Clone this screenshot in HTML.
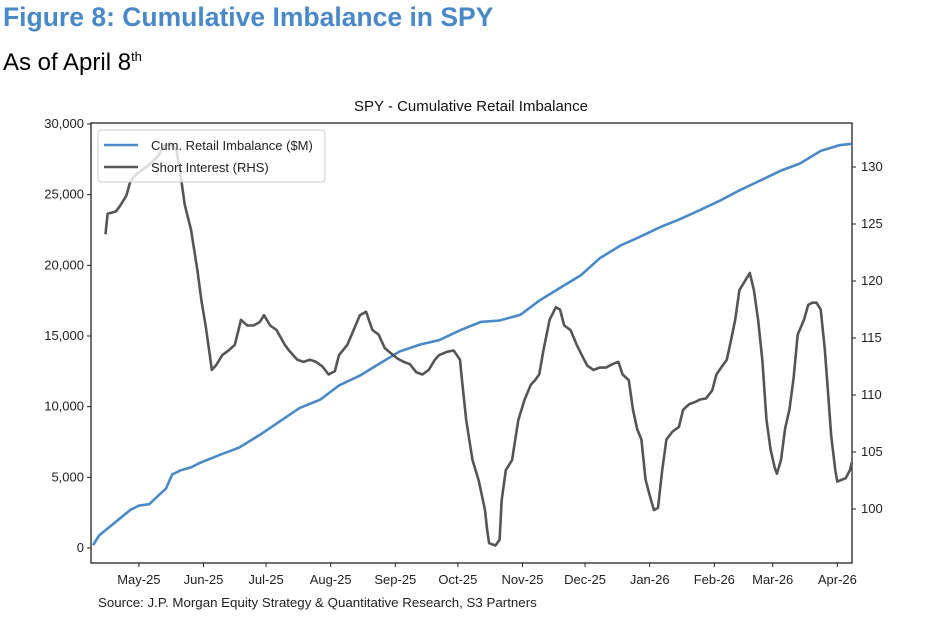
<!DOCTYPE html>
<html><head><meta charset="utf-8"><style>
body{margin:0;background:#fff;width:932px;height:624px;overflow:hidden;font-family:"Liberation Sans",Arial,sans-serif}
#h1{position:absolute;left:3px;top:2px;font-size:26.5px;font-weight:bold;color:#4a89c8}
#h2{position:absolute;left:3px;top:49px;font-size:24px;color:#000}
#h2 sup{font-size:13px}
svg{position:absolute;left:0;top:0}
</style></head><body>
<div id="h1">Figure 8: Cumulative Imbalance in SPY</div>
<div id="h2">As of April 8<sup>th</sup></div>
<svg id="c" width="932" height="624"></svg>
<script>
// days since 2025-04-09
const siDays=[6,7,11,13,16,18,21,24,27,31,34,37,40,42,44,47,50,52,54,56,57,59,62,65,68,71,74,77,80,82,85,88,92,94,98,101,104,107,110,113,116,118,122,125,128,131,134,137,140,142,146,149,152,155,158,161,164,166,170,173,176,177,179,182,185,188,189,190,193,195,196,198,201,204,207,210,212,214,216,219,222,224,226,229,232,235,237,240,243,246,249,252,254,257,259,261,263,265,267,269,271,273,275,278,281,283,286,289,291,294,297,299,302,304,306,308,310,313,315,317,319,321,323,325,327,328,330,332,334,336,338,341,343,345,347,349,351,353,354,356,357,361,363,364];
const siVals=[124.1,125.9,126.1,126.6,127.5,128.8,129.4,129.8,130.2,130.9,131.8,132.1,131.5,129.3,126.7,124.5,121,118.3,116.1,113.5,112.2,112.6,113.5,113.9,114.4,116.6,116.1,116.1,116.4,117,116.1,115.7,114.4,113.9,113.1,112.9,113.1,112.9,112.5,111.8,112.1,113.5,114.4,115.7,117,117.3,115.7,115.3,114.1,113.8,113.2,112.9,112.7,112,111.8,112.2,113.1,113.5,113.8,113.9,113.1,111.3,107.8,104.3,102.5,99.9,98.2,97,96.8,97.3,100.8,103.4,104.3,107.8,109.6,110.9,111.3,111.8,113.9,116.6,117.7,117.5,116.1,115.7,114.4,113.3,112.6,112.2,112.4,112.4,112.7,112.9,111.8,111.3,108.7,107,106.1,102.6,101.2,99.9,100.1,103.4,106.1,106.8,107.2,108.7,109.2,109.4,109.6,109.7,110.4,111.8,112.6,113.1,114.8,116.6,119.2,120.1,120.7,119.2,116.6,113.1,107.8,105.2,103.6,103.1,104.3,107.1,108.7,111.5,115.3,116.6,117.9,118.1,118.1,117.5,114,109.1,106.5,103.4,102.4,102.7,103.4,104.1];
const crDays=[0,3,8,13,18,22,27,32,35,38,42,47,51,61,70,80,90,99,109,118,128,138,147,157,166,176,186,195,205,214,224,234,243,253,262,272,282,291,301,310,320,330,339,349,358,364];
const crVals=[200,900,1500,2100,2700,3000,3100,3800,4200,5200,5500,5700,6000,6600,7100,8000,9000,9900,10500,11500,12200,13100,13900,14400,14700,15400,16000,16100,16500,17500,18400,19300,20500,21400,22000,22700,23300,23900,24600,25300,26000,26700,27200,28100,28500,28600];
const xTickLabels=["May-25","Jun-25","Jul-25","Aug-25","Sep-25","Oct-25","Nov-25","Dec-25","Jan-26","Feb-26","Mar-26","Apr-26"];
const xTickDays=[22,53,83,114,145,175,206,236,267,298,326,357];
const leftTicks=[0,5000,10000,15000,20000,25000,30000];
const rightTicks=[100,105,110,115,120,125,130];

const L=91,R=852,T=123,B=563;
const x=d=>93+d*2.085;
const yl=v=>548-v*(424/30000);
const yr=v=>509-(v-100)*11.4;
const svg=document.getElementById('c');
const NS='http://www.w3.org/2000/svg';
function mk(t,a,txt){const e=document.createElementNS(NS,t);for(const k in a)e.setAttribute(k,a[k]);if(txt!=null)e.textContent=txt;svg.appendChild(e);return e;}
let e=mk('text',{x:471,y:111,'text-anchor':'middle','font-size':15,fill:'#111'},'SPY - Cumulative Retail Imbalance');

e=mk('rect',{x:L,y:T,width:R-L,height:B-T,fill:'none',stroke:'#222','stroke-width':1.3});

leftTicks.forEach(v=>{const y=yl(v);mk('line',{x1:L-4,x2:L,y1:y,y2:y,stroke:'#222'});
 e=mk('text',{x:L-7,y:y+4,'text-anchor':'end','font-size':13,fill:'#222'},v.toLocaleString('en-US'));
 });
rightTicks.forEach(v=>{const y=yr(v);mk('line',{x1:R,x2:R+4,y1:y,y2:y,stroke:'#222'});
 e=mk('text',{x:R+9,y:y+4,'font-size':13,fill:'#222'},String(v));
 });
xTickDays.forEach((d,i)=>{const xx=x(d);mk('line',{x1:xx,x2:xx,y1:B,y2:B+4,stroke:'#222'});
 e=mk('text',{x:xx,y:B+21,'text-anchor':'middle','font-size':13,fill:'#222'},xTickLabels[i]);
 });
e=mk('path',{d:crDays.map((d,i)=>(i?'L':'M')+x(d).toFixed(1)+','+yl(crVals[i]).toFixed(1)).join(''),fill:'none',stroke:'#4a89c8','stroke-width':2.6});

e=mk('path',{d:siDays.map((d,i)=>(i?'L':'M')+x(d).toFixed(1)+','+yr(siVals[i]).toFixed(1)).join(''),fill:'none',stroke:'#555','stroke-width':2.6,'stroke-linejoin':'round'});

e=mk('rect',{x:98,y:130,width:227,height:52,rx:3,fill:'rgba(255,255,255,0.8)',stroke:'#ccc'});

mk('line',{x1:104,x2:138,y1:145,y2:145,stroke:'#4a89c8','stroke-width':2.6});
e=mk('text',{x:151,y:150,'font-size':13,fill:'#222'},'Cum. Retail Imbalance ($M)');

mk('line',{x1:104,x2:138,y1:167,y2:167,stroke:'#555','stroke-width':2.6});
e=mk('text',{x:151,y:172,'font-size':13,fill:'#222'},'Short Interest (RHS)');

e=mk('text',{x:98,y:607,'font-size':13.3,fill:'#222'},'Source: J.P. Morgan Equity Strategy & Quantitative Research, S3 Partners');

</script>
</body></html>
